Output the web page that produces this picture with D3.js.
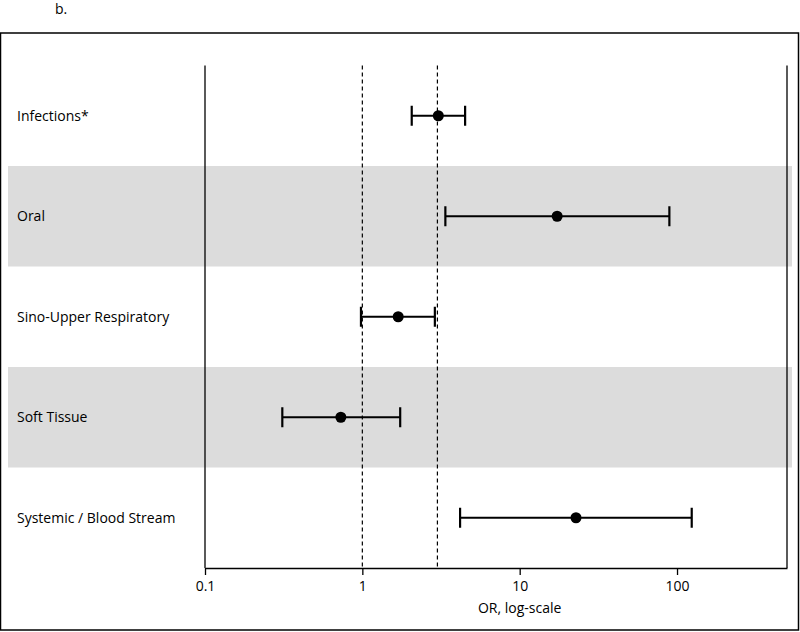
<!DOCTYPE html>
<html><head><meta charset="utf-8">
<script src="https://cdn.jsdelivr.net/npm/d3@7"></script>
<style>body{margin:0;background:#fff}svg{display:block}</style>
</head><body>
<svg id="c" width="800" height="632"></svg>
<script>
const categories = ["Infections*", "Oral", "Sino-Upper Respiratory", "Soft Tissue", "Systemic / Blood Stream"];
const orValues = [3.04, 17.3, 1.69, 0.73, 22.8];
const ciLow = [2.06, 3.37, 0.98, 0.31, 4.18];
const ciHigh = [4.50, 89.4, 2.89, 1.74, 124];
const tickValues = [0.1, 1, 10, 100];
const tickLabels = ["0.1", "1", "10", "100"];
const refLines = [1, 3];

const svg = d3.select("#c");
const font = "'Open Sans', sans-serif";
const fs = 14;

const x = d3.scaleLog().domain([0.1, 500]).range([205, 787]);
const y = d3.scaleBand().domain(categories).range([65.5, 568]);

// outer frame
svg.append("rect").attr("x", 0.5).attr("y", 33).attr("width", 798).attr("height", 597)
  .attr("fill", "none").attr("stroke", "#000").attr("stroke-width", 1.5);

svg.append("text").attr("x", 55).attr("y", 14).attr("font-family", font).attr("font-size", fs)
  .text("b.");

// shaded bands
svg.append("g").selectAll("rect").data(categories.filter((d, i) => i % 2 === 1)).join("rect")
  .attr("x", 8).attr("width", 784)
  .attr("y", d => y(d)).attr("height", y.bandwidth())
  .attr("fill", "#dcdcdc");

// reference dashed lines
svg.append("g").selectAll("line").data(refLines).join("line")
  .attr("x1", d => x(d)).attr("x2", d => x(d))
  .attr("y1", 65.5).attr("y2", 568)
  .attr("stroke", "#000").attr("stroke-width", 1.2).attr("stroke-dasharray", "4,3");

// left and right axis lines
svg.append("line").attr("x1", 205).attr("x2", 205).attr("y1", 65.5).attr("y2", 568)
  .attr("stroke", "#000").attr("stroke-width", 1.3);
svg.append("line").attr("x1", 787).attr("x2", 787).attr("y1", 65.5).attr("y2", 568)
  .attr("stroke", "#000").attr("stroke-width", 1.3);

// bottom axis
const xAxis = d3.axisBottom(x).tickValues(tickValues)
  .tickFormat((d, i) => tickLabels[i]).tickSize(7).tickSizeOuter(0).tickPadding(6);
const ax = svg.append("g").attr("transform", "translate(0,568)").call(xAxis);
ax.select(".domain").attr("stroke-width", 1.3);
ax.selectAll(".tick line").attr("stroke-width", 1.3);
ax.selectAll("text").attr("font-family", font).attr("font-size", fs).attr("fill", "#000");
svg.append("text").attr("x", x(10)).attr("y", 613).attr("text-anchor", "middle")
  .attr("font-family", font).attr("font-size", fs).text("OR, log-scale");

// category labels
svg.append("g").selectAll("text").data(categories).join("text")
  .attr("x", 17).attr("y", d => y(d) + y.bandwidth() / 2)
  .attr("dy", "0.35em").attr("font-family", font).attr("font-size", fs).text(d => d);

// error bars
const g = svg.append("g");
categories.forEach((c, i) => {
  const cy = y(c) + y.bandwidth() / 2;
  g.append("line").attr("x1", x(ciLow[i])).attr("x2", x(ciHigh[i])).attr("y1", cy).attr("y2", cy)
    .attr("stroke", "#000").attr("stroke-width", 2.2);
  [ciLow[i], ciHigh[i]].forEach(v => {
    g.append("line").attr("x1", x(v)).attr("x2", x(v)).attr("y1", cy - 10).attr("y2", cy + 10)
      .attr("stroke", "#000").attr("stroke-width", 2.2);
  });
  g.append("circle").attr("cx", x(orValues[i])).attr("cy", cy).attr("r", 5.5).attr("fill", "#000");
});
</script>
</body></html>
